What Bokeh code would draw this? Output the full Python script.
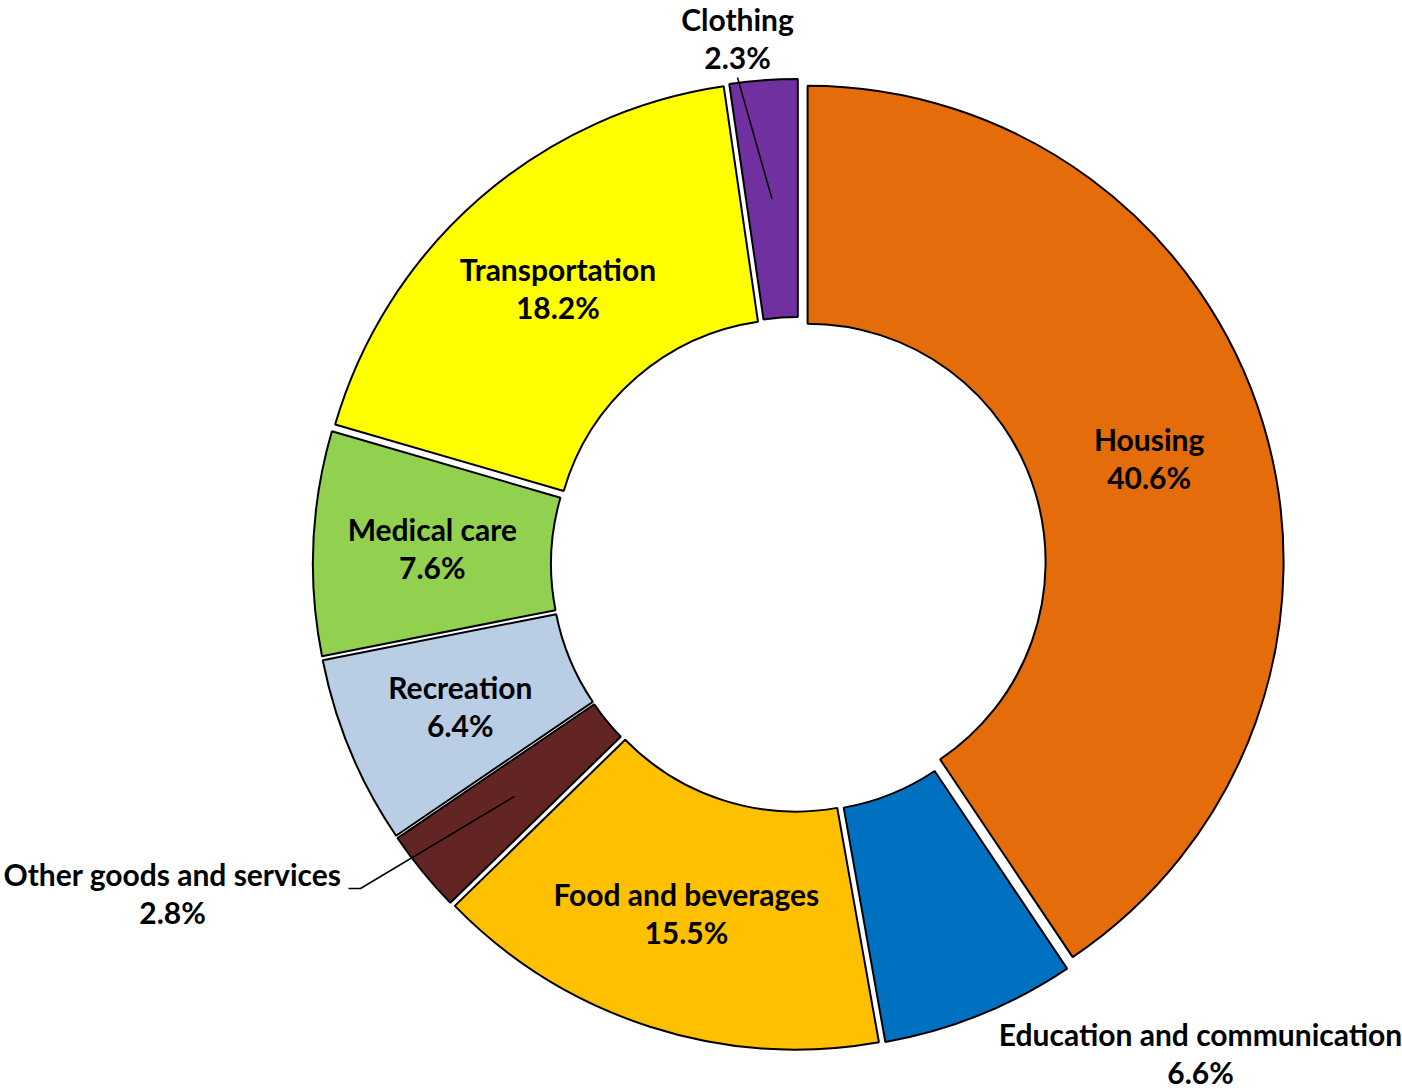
import math
from bokeh.plotting import figure
from bokeh.models import Range1d
from bokeh.core.properties import value
from bokeh.embed import file_html
from bokeh.resources import INLINE

# ---- data (clockwise from 12 o'clock) ----
categories = ["Housing", "Education and communication", "Food and beverages",
              "Other goods and services", "Recreation", "Medical care",
              "Transportation", "Clothing"]
shares = [40.6, 6.6, 15.5, 2.8, 6.4, 7.6, 18.2, 2.3]
colors = ["#E46C0A", "#0070C0", "#FFC000", "#632523", "#B9CDE5",
          "#92D050", "#FFFF00", "#7030A0"]

# ---- layout (pixel space of the picture; y is negated) ----
CX, CY = 798.0, 564.0
R_OUT, R_IN = 476.0, 238.0
EXPLODE = 9.5
FONT = "Lato"
FSIZE = "30px"
LINE_GAP = 19

# labels placed outside, with leader lines: category -> (label centre, leader end points)
outside = {
    "Clothing": ((737, 37), [(737, 77)]),
    "Other goods and services": ((172, 892), [(360, 888), (348, 888)]),
    "Education and communication": ((1200, 1052), []),
}

W, H = 1402, 1089
p = figure(width=W, height=H, x_range=Range1d(0, W), y_range=Range1d(-H, 0),
           output_backend="svg", toolbar_location=None,
           x_axis_location=None, y_axis_location=None, min_border=0,
           outline_line_color=None, background_fill_color="white")
p.grid.visible = False

total = sum(shares)
cum = 0.0
xs, ys, starts, ends = [], [], [], []
mids = []
for v in shares:
    t1 = cum / total * 360.0
    t2 = (cum + v) / total * 360.0
    tm = math.radians((t1 + t2) / 2)
    dx, dy = math.sin(tm), -math.cos(tm)          # screen direction
    cx, cy = CX + EXPLODE * dx, CY + EXPLODE * dy
    xs.append(cx)
    ys.append(-cy)
    starts.append(math.radians(90 - t2))
    ends.append(math.radians(90 - t1))
    rm = (R_OUT + R_IN) / 2
    mids.append((cx + rm * dx, cy + rm * dy))
    cum += v

p.annular_wedge(x=xs, y=ys, inner_radius=R_IN, outer_radius=R_OUT,
                start_angle=starts, end_angle=ends, direction="anticlock",
                fill_color=colors, line_color="black", line_width=2)

# labels
name_x, name_y, pct_x, pct_y, names, pcts = [], [], [], [], [], []
for cat, v, (mx, my) in zip(categories, shares, mids):
    if cat in outside:
        (lx, ly), pts = outside[cat]
        if pts:
            path = [(mx, my)] + pts
            p.line([q[0] for q in path], [-q[1] for q in path], line_color="black", line_width=1.5)
    else:
        lx, ly = mx, my
    names.append(cat)
    pcts.append(f"{v:.1f}%")
    name_x.append(lx)
    name_y.append(-(ly - LINE_GAP))
    pct_x.append(lx)
    pct_y.append(-(ly + LINE_GAP))

for tx, ty, tt in ((name_x, name_y, names), (pct_x, pct_y, pcts)):
    p.text(x=tx, y=ty, text=tt, text_align="center", text_baseline="middle",
           text_font=value(FONT), text_font_style="bold", text_font_size=FSIZE,
           text_color="black")

open("out.html", "w").write(file_html(p, INLINE))
